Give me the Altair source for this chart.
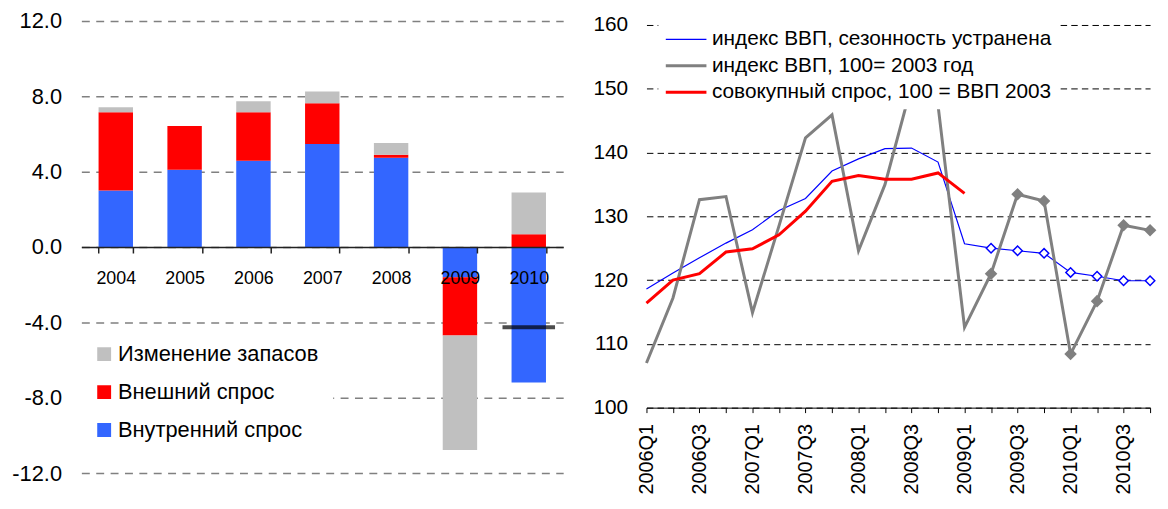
import altair as alt
import pandas as pd

# ---------------- left panel data ----------------
years = ["2004", "2005", "2006", "2007", "2008", "2009", "2010"]
domestic = [3.0, 4.1, 4.58, 5.47, 4.74, -1.6, -7.19]      # Внутренний спрос
external = [4.16, 2.32, 2.58, 2.16, 0.16, -3.1, 0.68]     # Внешний спрос
inventory = [0.26, 0.0, 0.58, 0.63, 0.63, -6.07, 2.21]    # Изменение запасов
net_years = ["2010"]
net_values = [-4.26]

s_inv = "Изменение запасов"
s_ext = "Внешний спрос"
s_dom = "Внутренний спрос"

# ---------------- right panel data ----------------
quarters = ["2006Q1", "2006Q2", "2006Q3", "2006Q4", "2007Q1", "2007Q2", "2007Q3", "2007Q4",
            "2008Q1", "2008Q2", "2008Q3", "2008Q4", "2009Q1", "2009Q2", "2009Q3", "2009Q4",
            "2010Q1", "2010Q2", "2010Q3", "2010Q4"]
gdp_sa = [118.6, 121.1, 123.5, 125.8, 127.9, 130.9, 132.8, 137.1, 139.0, 140.6,
          140.7, 138.5, 125.7, 125.0, 124.6, 124.2, 121.2, 120.6, 119.9, 119.9]
gdp_raw = [107.0, 117.2, 132.6, 133.1, 114.9, 128.5, 142.3, 145.9, 124.6, 135.0,
           150.5, 147.4, 112.6, 121.0, 133.45, 132.4, 108.4, 116.7, 128.6, 127.8]
demand = [116.4, 120.0, 121.0, 124.4, 124.9, 127.1, 130.8, 135.5, 136.4, 135.8,
          135.8, 136.8, 133.6, None, None, None, None, None, None, None]
marker_from = "2009Q2"

n_sa = "индекс ВВП, сезонность устранена"
n_raw = "индекс ВВП, 100= 2003 год"
n_dem = "совокупный спрос, 100 = ВВП 2003"

FONT = "Liberation Sans"

# ---------------- left panel ----------------
rows = []
for i, y in enumerate(years):
    rows.append({"year": y, "series": s_dom, "value": domestic[i], "ord": 0})
    rows.append({"year": y, "series": s_ext, "value": external[i], "ord": 1})
    rows.append({"year": y, "series": s_inv, "value": inventory[i], "ord": 2})
bars_df = pd.DataFrame(rows)
net_df = pd.DataFrame({"year": net_years, "value": net_values})

xl = alt.X("year:N", sort=years,
           scale=alt.Scale(paddingInner=0.5, paddingOuter=0.25),
           axis=alt.Axis(title=None, orient="bottom", offset=-228, tickBand="extent",
                         labelAngle=0, labelFontSize=18, labelPadding=17, labelColor="black",
                         domainColor="#222222", domainWidth=1.5, tickColor="#222222",
                         tickWidth=1.5, tickSize=6, grid=False, zindex=1))

bars = alt.Chart(bars_df).mark_bar().encode(
    x=xl,
    y=alt.Y("value:Q", stack="zero",
            scale=alt.Scale(domain=[-12, 12], nice=False),
            axis=alt.Axis(title=None, values=[-12, -8, -4, 0, 4, 8, 12], format=".1f",
                          labelExpr="replace(datum.label, '\u2212', '-')",
                          labelFontSize=22, labelPadding=20, labelColor="black",
                          domain=False, ticks=False, grid=True, gridColor="#808080",
                          gridDash=[8, 6.5], gridWidth=1.5)),
    color=alt.Color("series:N",
                    scale=alt.Scale(domain=[s_inv, s_ext, s_dom],
                                    range=["#C0C0C0", "#FF0000", "#3366FF"]),
                    legend=alt.Legend(title=None, orient="none", legendX=-2, legendY=311,
                                      padding=14, fillColor="white", symbolType="square",
                                      symbolSize=196, symbolStrokeWidth=0,
                                      labelFontSize=22, labelColor="black", labelLimit=600,
                                      clipHeight=22, rowPadding=16.3, labelOffset=3)),
    order=alt.Order("ord:Q"),
)

net = alt.Chart(net_df).mark_tick(color="black", thickness=4, size=53).encode(
    x=alt.X("year:N", sort=years),
    y=alt.Y("value:Q"),
)

left = alt.layer(bars, net).properties(width=486, height=456)

# ---------------- right panel ----------------
lrows = []
for i, q in enumerate(quarters):
    lrows.append({"q": q, "idx": i, "series": n_sa, "value": gdp_sa[i]})
    lrows.append({"q": q, "idx": i, "series": n_raw, "value": gdp_raw[i]})
    lrows.append({"q": q, "idx": i, "series": n_dem, "value": demand[i]})
lines_df = pd.DataFrame(lrows)
m_idx = quarters.index(marker_from)

xr = alt.X("q:O", sort=quarters, scale=alt.Scale(type="point", padding=0),
           axis=alt.Axis(title=None, labelAngle=270, labelFontSize=20, labelPadding=11,
                         labelColor="black",
                         labelExpr="(substring(datum.value, 5, 6) == '1' || substring(datum.value, 5, 6) == '3') ? datum.label : ''",
                         tickSize=5, tickColor="black", domainColor="black", grid=False))
yr = alt.Y("value:Q", scale=alt.Scale(domain=[100, 160.62], nice=False),
           axis=alt.Axis(title=None, values=[100, 110, 120, 130, 140, 150, 160], format="d",
                         labelFontSize=21, labelPadding=19, labelColor="black",
                         domain=False, ticks=False, grid=True, gridColor="black",
                         gridDash=[6.5, 4.2], gridWidth=1))

leg_r = dict(title=None, orient="none", legendX=12, legendY=2, padding=6,
             fillColor="white", symbolType="stroke", symbolSize=1681,
             labelFontSize=21, labelColor="black", labelLimit=600,
             clipHeight=21, rowPadding=4.7, labelOffset=4)

lines = alt.Chart(lines_df).mark_line().encode(
    x=xr, y=yr,
    color=alt.Color("series:N",
                    scale=alt.Scale(domain=[n_sa, n_raw, n_dem],
                                    range=["#0000FF", "#808080", "#FF0000"]),
                    legend=alt.Legend(**leg_r)),
    strokeWidth=alt.StrokeWidth("series:N",
                                scale=alt.Scale(type="ordinal", domain=[n_sa, n_raw, n_dem],
                                                range=[1.2, 3, 3]),
                                legend=alt.Legend(**leg_r)),
    order=alt.Order("idx:Q"),
)

pts_sa = alt.Chart(lines_df).transform_filter(
    (alt.datum.series == n_sa) & (alt.datum.idx >= m_idx)
).mark_point(shape="diamond", size=90, filled=True, fill="white", stroke="#0000FF",
             strokeWidth=1.5, opacity=1).encode(x=xr, y=yr)

pts_raw = alt.Chart(lines_df).transform_filter(
    (alt.datum.series == n_raw) & (alt.datum.idx >= m_idx)
).mark_point(shape="diamond", size=160, filled=True, color="#808080", opacity=1).encode(x=xr, y=yr)

right = alt.layer(lines, pts_sa, pts_raw).properties(width=508, height=390)

chart = alt.hconcat(left, right, spacing=84, bounds="flush").resolve_scale(
    color="independent", strokeWidth="independent", x="independent", y="independent"
).resolve_legend(color="independent", strokeWidth="independent").properties(
    padding={"left": 3, "top": 0, "right": 0, "bottom": 0}
).configure(font=FONT).configure_view(stroke=None).configure_axis(
    labelFont=FONT).configure_legend(labelFont=FONT)

chart.save("out.html", embed_options={"renderer": "svg", "actions": False})
